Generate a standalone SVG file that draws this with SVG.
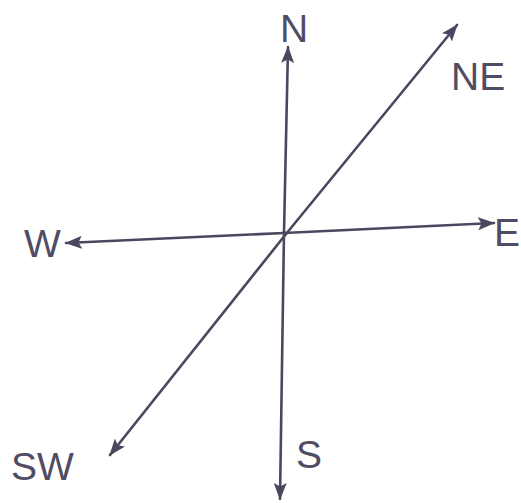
<svg xmlns="http://www.w3.org/2000/svg" width="521" height="503" viewBox="0 0 521 503">
<defs>
<style>
.ln{stroke:#4b475f;stroke-width:2.6;fill:none;stroke-linecap:round}
.lb{font-family:"Liberation Sans",Arial,sans-serif;font-size:39px;fill:#504c64}
</style>
<marker id="ah" viewBox="0 0 17 13" refX="16" refY="6.5" markerWidth="17" markerHeight="13" markerUnits="userSpaceOnUse" orient="auto">
<path d="M0,0 L17,6.5 L0,13 L3.5,6.5 Z" fill="#4b475f"/>
</marker>
</defs>
<rect width="521" height="503" fill="#ffffff"/>
<g id="connectors">
<line class="ln" x1="284" y1="232" x2="288" y2="47" marker-end="url(#ah)"/>
<line class="ln" x1="284" y1="232" x2="280" y2="499" marker-end="url(#ah)"/>
<line class="ln" x1="284" y1="233" x2="66" y2="243" marker-end="url(#ah)"/>
<line class="ln" x1="284" y1="233" x2="494" y2="223" marker-end="url(#ah)"/>
<line class="ln" x1="286" y1="234" x2="457" y2="25" marker-end="url(#ah)"/>
<line class="ln" x1="286" y1="234" x2="110" y2="455" marker-end="url(#ah)"/>
</g>
<g id="N"><text class="lb" x="280" y="42">N</text></g>
<g id="NE"><text class="lb" x="451" y="90">NE</text></g>
<g id="W"><text class="lb" x="24" y="257">W</text></g>
<g id="E"><text class="lb" x="494" y="246">E</text></g>
<g id="SW"><text class="lb" x="11" y="480">SW</text></g>
<g id="S"><text class="lb" x="296" y="468">S</text></g>
</svg>
